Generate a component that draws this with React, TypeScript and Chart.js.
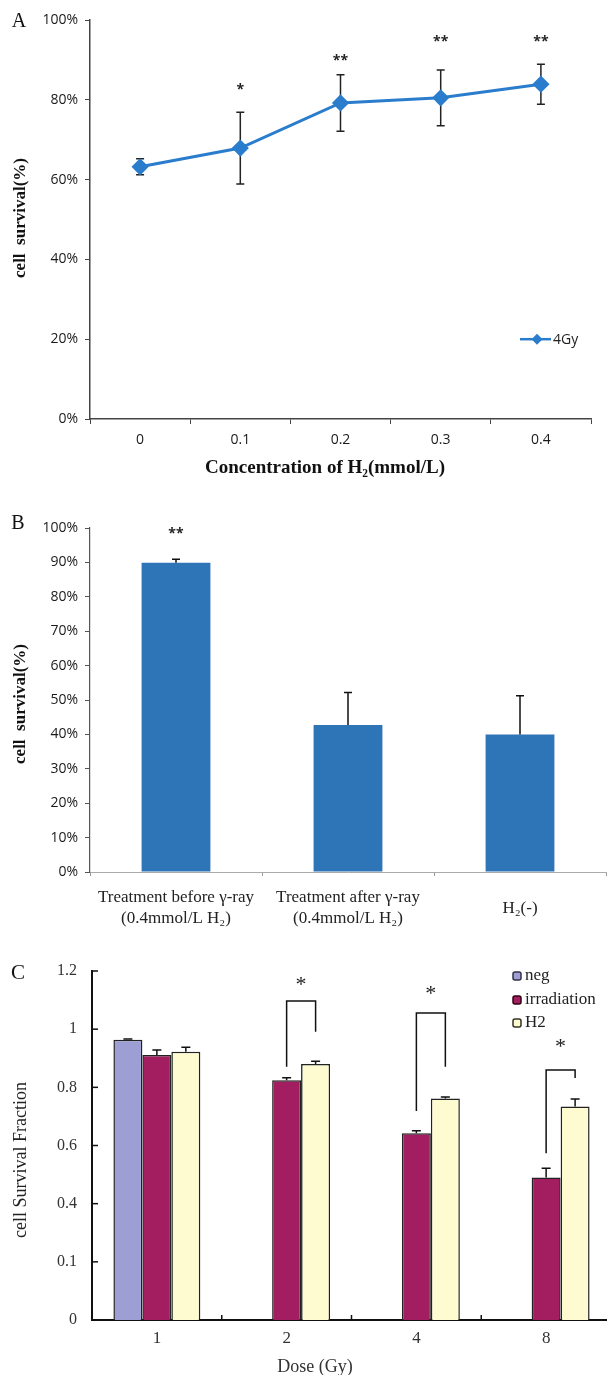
import React, { useEffect, useRef } from "react";
import { Chart, registerables } from "chart.js";
Chart.register(...registerables);

const SERIF = "'Liberation Serif', 'Times New Roman', serif";
const SANS = "'Open Sans', 'Liberation Sans', sans-serif";

// ---------- Panel A ----------
const concentrationLabels = ["0", "0.1", "0.2", "0.3", "0.4"];
const survival4Gy = [63.2, 67.9, 79.2, 80.5, 83.9];
const survival4GyErr = [2.0, 9.0, 7.1, 7.0, 5.0];
const significanceA = ["", "*", "**", "**", "**"];
const significanceLevelA = [0, 83.2, 90.5, 95.2, 95.2];
const yTicksA = [0, 20, 40, 60, 80, 100];

// ---------- Panel B ----------
const treatmentLabels: (string | string[])[] = [
  ["Treatment before γ-ray", "(0.4mmol/L H₂)"],
  ["Treatment after γ-ray", "(0.4mmol/L H₂)"],
  "H₂(-)",
];
const treatmentSurvival = [89.9, 42.7, 40.0];
const treatmentErr = [1.0, 9.5, 11.2];
const significanceB = ["**", "", ""];
const significanceLevelB = [99.1, 0, 0];
const yTicksB = [0, 10, 20, 30, 40, 50, 60, 70, 80, 90, 100];

// ---------- Panel C ----------
const doseLabels = ["1", "2", "4", "8"];
const negFraction = [0.964, null, null, null];
const negErr = [0.002, null, null, null];
const irradiationFraction = [0.911, 0.824, 0.642, 0.49];
const irradiationErr = [0.017, 0.009, 0.009, 0.032];
const h2Fraction = [0.922, 0.88, 0.762, 0.734];
const h2Err = [0.016, 0.01, 0.005, 0.026];
const yTickValuesC = [0, 0.2, 0.4, 0.6, 0.8, 1, 1.2];
const yTickLabelsC = ["0", "0.1", "0.4", "0.6", "0.8", "1", "1.2"];
const bracketTopC = [null, 1.097, 1.056, 0.86];
const bracketIrrEndC = [null, 0.871, 0.719, 0.573];
const bracketH2EndC = [null, 0.991, 0.871, 0.832];
const starLevelC = [null, 1.169, 1.138, 0.954];

const BLUE_A = "#2a7dcc";
const BLUE_B = "#2e75b8";
const NEG = "#9d9ed3";
const IRR = "#a21e60";
const H2C = "#fdfbcf";

function drawText(
  ctx: CanvasRenderingContext2D,
  s: string,
  x: number,
  y: number,
  font: string,
  color: string,
  align: CanvasTextAlign = "center",
  rot = 0
) {
  ctx.save();
  ctx.translate(x, y);
  if (rot) ctx.rotate(rot);
  ctx.font = font;
  ctx.fillStyle = color;
  ctx.textAlign = align;
  ctx.textBaseline = "middle";
  ctx.fillText(s, 0, 0);
  ctx.restore();
}

type ErrSpec = {
  ds: number;
  values: (number | null)[];
  errs: (number | null)[];
  down: boolean;
  cap: number;
  color: string;
  width: number;
};

function errorBarPlugin(id: string, specs: ErrSpec[], before: boolean) {
  const draw = (chart: any) => {
    const ctx: CanvasRenderingContext2D = chart.ctx;
    const y = chart.scales.y;
    specs.forEach((s) => {
      const meta = chart.getDatasetMeta(s.ds);
      s.values.forEach((v, i) => {
        const e = s.errs[i];
        if (v == null || e == null) return;
        const x = meta.data[i].x;
        const yTop = y.getPixelForValue(v + e);
        const yBot = s.down ? y.getPixelForValue(v - e) : y.getPixelForValue(v);
        ctx.save();
        ctx.strokeStyle = s.color;
        ctx.lineWidth = s.width;
        ctx.beginPath();
        ctx.moveTo(x, yBot);
        ctx.lineTo(x, yTop);
        ctx.moveTo(x - s.cap, yTop);
        ctx.lineTo(x + s.cap, yTop);
        if (s.down) {
          ctx.moveTo(x - s.cap, yBot);
          ctx.lineTo(x + s.cap, yBot);
        }
        ctx.stroke();
        ctx.restore();
      });
    });
  };
  return before
    ? { id, beforeDatasetsDraw: draw }
    : { id, afterDatasetsDraw: draw };
}

export default function App() {
  const refA = useRef<HTMLCanvasElement>(null);
  const refB = useRef<HTMLCanvasElement>(null);
  const refC = useRef<HTMLCanvasElement>(null);

  useEffect(() => {
    const common = {
      responsive: false,
      animation: false as const,
      devicePixelRatio: 1,
      events: [] as any[],
    };

    // ---------------- Panel A ----------------
    const annotA = {
      id: "annotA",
      afterDraw(chart: any) {
        const ctx = chart.ctx;
        const x = chart.scales.x;
        const y = chart.scales.y;
        drawText(ctx, "A", 19, 22, `20px ${SERIF}`, "#111");
        drawText(ctx, "cell  survival(%)", 21, 218, `bold 17px ${SERIF}`, "#111", "center", -Math.PI / 2);
        drawText(ctx, "Concentration of H₂(mmol/L)", 325, 468, `bold 19px ${SERIF}`, "#111");
        significanceA.forEach((s, i) => {
          if (!s) return;
          drawText(ctx, s, x.getPixelForValue(i), y.getPixelForValue(significanceLevelA[i]) + 3, `bold 14px ${SANS}`, "#222");
        });
        // legend
        const ly = y.getPixelForValue(20);
        ctx.save();
        ctx.strokeStyle = BLUE_A;
        ctx.lineWidth = 2.5;
        ctx.beginPath();
        ctx.moveTo(520, ly);
        ctx.lineTo(551, ly);
        ctx.stroke();
        ctx.fillStyle = BLUE_A;
        ctx.beginPath();
        ctx.moveTo(537, ly - 5.5);
        ctx.lineTo(542.5, ly);
        ctx.lineTo(537, ly + 5.5);
        ctx.lineTo(531.5, ly);
        ctx.closePath();
        ctx.fill();
        ctx.restore();
        drawText(ctx, "4Gy", 553, ly + 1, `14px ${SANS}`, "#222", "left");
      },
    };

    const chartA = new Chart(refA.current!, {
      type: "line",
      data: {
        labels: concentrationLabels,
        datasets: [
          {
            label: "4Gy",
            data: survival4Gy,
            borderColor: BLUE_A,
            backgroundColor: BLUE_A,
            borderWidth: 3,
            pointStyle: "rectRot",
            pointRadius: 6.5,
            pointBackgroundColor: BLUE_A,
            pointBorderColor: BLUE_A,
            tension: 0,
          },
        ],
      },
      options: {
        ...common,
        layout: { padding: { top: 20, right: 16, left: 0, bottom: 0 } },
        plugins: { legend: { display: false }, tooltip: { enabled: false } },
        scales: {
          x: {
            offset: true,
            grid: { offset: true, drawOnChartArea: false, drawTicks: true, tickLength: 5, color: "#444" },
            border: { color: "#444", width: 1.5 },
            ticks: { font: { family: SANS, size: 14 }, color: "#1a1a1a", padding: 8 },
            afterFit: (s: any) => {
              s.height = 61;
            },
          },
          y: {
            min: 0,
            max: 100,
            afterBuildTicks: (s: any) => {
              s.ticks = yTicksA.map((v) => ({ value: v }));
            },
            grid: { drawOnChartArea: false, drawTicks: true, tickLength: 5, color: "#444" },
            border: { color: "#444", width: 1.5 },
            ticks: {
              callback: (v: any) => v + "%",
              font: { family: SANS, size: 14 },
              color: "#1a1a1a",
              padding: 7,
            },
            afterFit: (s: any) => {
              s.width = 90;
            },
          },
        },
      } as any,
      plugins: [
        errorBarPlugin(
          "errA",
          [{ ds: 0, values: survival4Gy, errs: survival4GyErr, down: true, cap: 4, color: "#222", width: 1.5 }],
          true
        ),
        annotA,
      ],
    });

    // ---------------- Panel B ----------------
    const annotB = {
      id: "annotB",
      afterDraw(chart: any) {
        const ctx = chart.ctx;
        const x = chart.scales.x;
        const y = chart.scales.y;
        drawText(ctx, "B", 18, 44, `20px ${SERIF}`, "#111");
        drawText(ctx, "cell  survival(%)", 21, 224, `bold 17px ${SERIF}`, "#111", "center", -Math.PI / 2);
        significanceB.forEach((s, i) => {
          if (!s) return;
          drawText(ctx, s, x.getPixelForValue(i), y.getPixelForValue(significanceLevelB[i]) + 3, `bold 14px ${SANS}`, "#222");
        });
      },
    };

    const chartB = new Chart(refB.current!, {
      type: "bar",
      data: {
        labels: treatmentLabels as any,
        datasets: [
          {
            data: treatmentSurvival,
            backgroundColor: BLUE_B,
            borderWidth: 0,
            barPercentage: 0.4,
            categoryPercentage: 1,
          },
        ],
      },
      options: {
        ...common,
        layout: { padding: { top: 48, right: 1, left: 0, bottom: 0 } },
        plugins: { legend: { display: false }, tooltip: { enabled: false } },
        scales: {
          x: {
            grid: { offset: true, drawOnChartArea: false, drawTicks: true, tickLength: 4, color: "#999" },
            border: { color: "#aaa", width: 1 },
            ticks: {
              font: { family: SERIF, size: 17 },
              color: "#222",
              padding: 22,
              maxRotation: 0,
              autoSkip: false,
              crossAlign: "center",
            },
            afterFit: (s: any) => {
              s.height = 58;
            },
          },
          y: {
            min: 0,
            max: 100,
            afterBuildTicks: (s: any) => {
              s.ticks = yTicksB.map((v) => ({ value: v }));
            },
            grid: { drawOnChartArea: false, drawTicks: true, tickLength: 5, color: "#555" },
            border: { color: "#555", width: 1.2 },
            ticks: {
              callback: (v: any) => v + "%",
              font: { family: SANS, size: 14 },
              color: "#1a1a1a",
              padding: 7,
            },
            afterFit: (s: any) => {
              s.width = 90;
            },
          },
        },
      } as any,
      plugins: [
        errorBarPlugin(
          "errB",
          [{ ds: 0, values: treatmentSurvival, errs: treatmentErr, down: false, cap: 4, color: "#111", width: 1.5 }],
          false
        ),
        annotB,
      ],
    });

    // ---------------- Panel C ----------------
    const annotC = {
      id: "annotC",
      afterDraw(chart: any) {
        const ctx: CanvasRenderingContext2D = chart.ctx;
        const x = chart.scales.x;
        const y = chart.scales.y;
        const area = chart.chartArea;
        drawText(ctx, "C", 18, 43, `21px ${SERIF}`, "#111");
        drawText(ctx, "cell Survival Fraction", 21, 230, `18px ${SERIF}`, "#222", "center", -Math.PI / 2);
        drawText(ctx, "Dose (Gy)", 315, 437, `18px ${SERIF}`, "#333");
        ctx.save();
        ctx.strokeStyle = "#111";
        ctx.lineWidth = 1.5;
        // inward y ticks
        yTickValuesC.forEach((v) => {
          const py = y.getPixelForValue(v);
          ctx.beginPath();
          ctx.moveTo(area.left, py);
          ctx.lineTo(area.left + 6, py);
          ctx.stroke();
        });
        // inward x ticks at category boundaries
        for (let i = 1; i < doseLabels.length; i++) {
          const px = (x.getPixelForValue(i - 1) + x.getPixelForValue(i)) / 2;
          ctx.beginPath();
          ctx.moveTo(px, area.bottom);
          ctx.lineTo(px, area.bottom - 5);
          ctx.stroke();
        }
        // significance brackets
        const mIrr = chart.getDatasetMeta(1);
        const mH2 = chart.getDatasetMeta(2);
        bracketTopC.forEach((top, i) => {
          if (top == null) return;
          const x1 = mIrr.data[i].x;
          const x2 = mH2.data[i].x;
          ctx.beginPath();
          ctx.moveTo(x1, y.getPixelForValue(bracketIrrEndC[i]!));
          ctx.lineTo(x1, y.getPixelForValue(top));
          ctx.lineTo(x2, y.getPixelForValue(top));
          ctx.lineTo(x2, y.getPixelForValue(bracketH2EndC[i]!));
          ctx.stroke();
          drawText(ctx, "*", (x1 + x2) / 2, y.getPixelForValue(starLevelC[i]!) + 5, `22px ${SERIF}`, "#222");
        });
        ctx.restore();
        // legend
        const items = [
          { label: "neg", color: NEG, border: "#334", y: 46 },
          { label: "irradiation", color: IRR, border: "#301", y: 70 },
          { label: "H2", color: H2C, border: "#332", y: 93 },
        ];
        items.forEach((it) => {
          ctx.save();
          ctx.fillStyle = it.color;
          ctx.strokeStyle = it.border;
          ctx.lineWidth = 1.5;
          ctx.beginPath();
          (ctx as any).roundRect ? (ctx as any).roundRect(513, it.y - 4, 8, 8, 2) : ctx.rect(513, it.y - 4, 8, 8);
          ctx.fill();
          ctx.stroke();
          ctx.restore();
          drawText(ctx, it.label, 525, it.y, `17px ${SERIF}`, "#222", "left");
        });
      },
    };

    const chartC = new Chart(refC.current!, {
      type: "bar",
      data: {
        labels: doseLabels,
        datasets: [
          { label: "neg", data: negFraction as any, backgroundColor: NEG, borderColor: "#222", borderWidth: 1.5 },
          { label: "irradiation", data: irradiationFraction, backgroundColor: IRR, borderColor: "#222", borderWidth: 1.5 },
          { label: "H2", data: h2Fraction, backgroundColor: H2C, borderColor: "#222", borderWidth: 1.5 },
        ],
      },
      options: {
        ...common,
        datasets: { bar: { barPercentage: 1, categoryPercentage: 0.67 } },
        layout: { padding: { top: 41, right: 4, left: 0, bottom: 0 } },
        plugins: { legend: { display: false }, tooltip: { enabled: false } },
        scales: {
          x: {
            grid: { display: false, drawTicks: false },
            border: { color: "#111", width: 2 },
            ticks: { font: { family: SERIF, size: 17 }, color: "#333", padding: 8 },
            afterFit: (s: any) => {
              s.height = 55;
            },
          },
          y: {
            min: 0,
            max: 1.2,
            afterBuildTicks: (s: any) => {
              s.ticks = yTickValuesC.map((v) => ({ value: v }));
            },
            grid: { display: false, drawTicks: false },
            border: { color: "#111", width: 2 },
            ticks: {
              callback: (_v: any, i: number) => yTickLabelsC[i],
              font: { family: SERIF, size: 16 },
              color: "#333",
              padding: 15,
            },
            afterFit: (s: any) => {
              s.width = 92;
            },
          },
        },
      } as any,
      plugins: [
        errorBarPlugin(
          "errC",
          [
            { ds: 0, values: negFraction, errs: negErr, down: false, cap: 4.5, color: "#111", width: 1.5 },
            { ds: 1, values: irradiationFraction, errs: irradiationErr, down: false, cap: 4.5, color: "#111", width: 1.5 },
            { ds: 2, values: h2Fraction, errs: h2Err, down: false, cap: 4.5, color: "#111", width: 1.5 },
          ],
          false
        ),
        annotC,
      ],
    });

    return () => {
      chartA.destroy();
      chartB.destroy();
      chartC.destroy();
    };
  }, []);

  return (
    <div
      style={{
        position: "absolute",
        left: 0,
        top: 0,
        width: 607,
        height: 1375,
        overflow: "hidden",
        background: "#fff",
      }}
    >
      <canvas
        ref={refA}
        width={607}
        height={480}
        style={{ position: "absolute", left: 0, top: 0, width: 607, height: 480 }}
      />
      <canvas
        ref={refB}
        width={607}
        height={450}
        style={{ position: "absolute", left: 0, top: 480, width: 607, height: 450 }}
      />
      <canvas
        ref={refC}
        width={615}
        height={445}
        style={{ position: "absolute", left: 0, top: 930, width: 615, height: 445 }}
      />
    </div>
  );
}
